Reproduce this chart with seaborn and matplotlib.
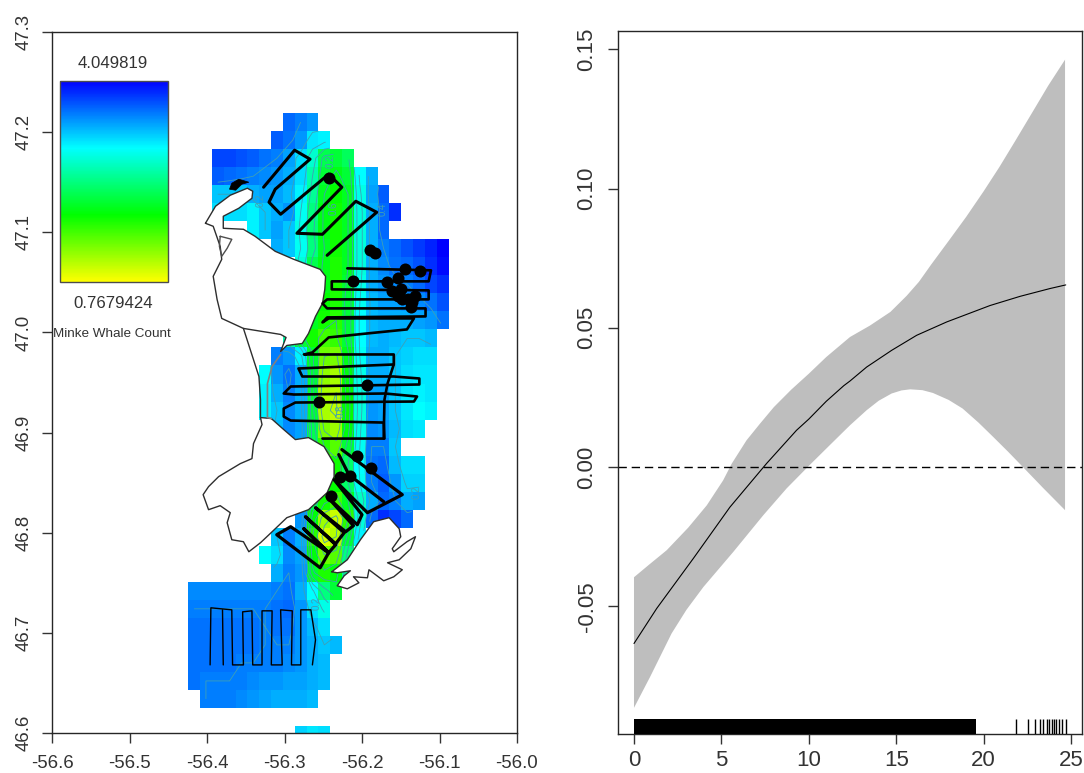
import numpy as np
import pandas as pd
import matplotlib
matplotlib.use("Agg")
import matplotlib.pyplot as plt
from matplotlib.colors import LinearSegmentedColormap
import seaborn as sns

# ---- map data: predicted count per grid cell, row by row from the north
row_start = [8, 7, 2, 2, 2, 2, 5, 7, 9, 10, 10, 9, 8, 7, 6, 6, 6, 7, 9, 12, 11, 10, 9,
             7, 6, 7, 0, 0, 0, 0, 0, 0, 1, 0, 9]
row_values = [
    [3.6, 3.5, 3.4],
    [3.65, 3.55, 3.4, 3.05, 3.0],
    [3.75, 3.75, 3.7, 3.65, 3.55, 3.5, 3.35, 3.1, 2.75, 2.2, 2.1, 2.25],
    [3.65, 3.6, 3.55, 3.5, 3.45, 3.4, 3.3, 3.1, 2.6, 2.1, 1.95, 2.1, 2.95, 3.3],
    [3.2, 3.2, 3.2, 3.3, 3.35, 3.35, 3.25, 3.0, 2.5, 2.0, 1.85, 2.0, 2.85, 3.35, 3.65],
    [3.1, 3.1, 3.1, 3.0, 3.2, 3.3, 3.4, 2.9, 2.4, 1.95, 1.8, 2.0, 2.8, 3.3, 3.6, 3.85],
    [3.0, 3.2, 3.35, 3.2, 2.85, 2.35, 1.95, 1.8, 2.0, 2.8, 3.3, 3.6],
    [3.3, 3.2, 2.9, 2.4, 2.0, 1.8, 2.0, 2.8, 3.3, 3.5, 3.6, 3.7, 3.8, 3.9, 4.05],
    [2.8, 2.2, 1.95, 1.75, 2.0, 2.8, 3.3, 3.45, 3.55, 3.6, 3.7, 3.85, 4.0],
    [2.3, 1.95, 1.75, 2.05, 2.85, 3.3, 3.4, 3.45, 3.5, 3.6, 3.75, 3.85],
    [2.1, 1.85, 1.75, 2.1, 2.9, 3.25, 3.35, 3.35, 3.4, 3.45, 3.55, 3.7],
    [2.2, 2.0, 1.8, 1.7, 2.1, 2.95, 3.25, 3.3, 3.3, 3.3, 3.35, 3.4, 3.55],
    [2.6, 2.1, 1.8, 1.6, 1.65, 2.1, 2.95, 3.25, 3.3, 3.25, 3.2, 3.2, 3.25],
    [3.5, 3.4, 3.0, 2.05, 1.4, 1.35, 1.95, 2.9, 3.3, 3.3, 3.2, 3.15, 3.1, 3.1],
    [2.95, 3.4, 3.55, 3.3, 2.1, 1.25, 1.15, 1.9, 2.85, 3.3, 3.3, 3.2, 3.1, 3.05, 3.05],
    [3.0, 3.3, 3.5, 3.3, 2.1, 1.15, 1.1, 1.85, 2.8, 3.35, 3.35, 3.2, 3.05, 3.0, 3.05],
    [3.0, 3.2, 3.45, 3.3, 2.1, 1.15, 1.05, 1.85, 2.8, 3.4, 3.35, 3.2, 3.05, 2.95, 3.0],
    [3.25, 3.45, 3.35, 2.2, 1.35, 1.2, 1.9, 2.85, 3.45, 3.4, 3.25, 3.1, 3.05],
    [3.3, 2.2, 1.7, 1.5, 2.1, 2.9, 3.5, 3.5, 3.2],
    [1.8, 2.3, 2.95, 3.55, 3.6, 3.25, 3.1, 3.1],
    [1.9, 1.85, 2.3, 2.9, 3.5, 3.65, 3.4, 3.15, 3.15],
    [2.2, 1.8, 1.6, 2.0, 2.7, 3.3, 3.6, 3.5, 3.3, 3.35],
    [3.4, 1.9, 1.2, 1.0, 1.7, 2.8, 3.6, 3.85, 3.75, 3.6],
    [3.2, 3.5, 3.3, 1.7, 0.95, 1.1, 2.1, 3.0],
    [2.95, 3.1, 3.45, 3.35, 1.9, 1.4, 1.5, 2.4],
    [3.3, 3.5, 3.4, 2.05, 1.75, 1.9, 2.5],
    [3.45, 3.45, 3.45, 3.45, 3.45, 3.45, 3.45, 3.5, 3.55, 3.3, 2.95, 2.4, 2.1],
    [3.5, 3.5, 3.5, 3.5, 3.5, 3.5, 3.5, 3.55, 3.6, 3.4, 3.1, 2.85],
    [3.55, 3.55, 3.55, 3.55, 3.55, 3.55, 3.5, 3.55, 3.55, 3.4, 3.25, 3.1],
    [3.55, 3.55, 3.55, 3.55, 3.55, 3.55, 3.5, 3.5, 3.5, 3.4, 3.3, 3.2, 3.25],
    [3.55, 3.55, 3.55, 3.55, 3.5, 3.5, 3.5, 3.5, 3.45, 3.4, 3.3, 3.25],
    [3.55, 3.5, 3.5, 3.5, 3.5, 3.45, 3.4, 3.4, 3.35, 3.35, 3.3, 3.25],
    [3.5, 3.5, 3.5, 3.45, 3.4, 3.35, 3.3, 3.3, 3.3, 3.25],
    [],
    [3.15, 3.05, 3.1],
]
grid_west = -56.4243
grid_north = 47.219
cell_lon = 0.01528
cell_lat = 0.018
count_min = 0.7679424
count_max = 4.049819

land_north_lon = [-56.402, -56.389, -56.370, -56.348, -56.341, -56.342, -56.359, -56.379, -56.379,
                  -56.353, -56.338, -56.312, -56.288, -56.254, -56.247, -56.248, -56.251, -56.260,
                  -56.269, -56.277, -56.297, -56.305, -56.298, -56.305, -56.353, -56.381, -56.387,
                  -56.392, -56.381, -56.383, -56.392]
land_north_lat = [47.109, 47.126, 47.137, 47.144, 47.141, 47.134, 47.124, 47.116, 47.104, 47.103,
                  47.096, 47.081, 47.073, 47.063, 47.056, 47.043, 47.029, 47.016, 46.999, 46.989,
                  46.987, 46.981, 46.995, 46.998, 47.004, 47.014, 47.033, 47.056, 47.073, 47.086,
                  47.106]
land_south_lon = [-56.317, -56.301, -56.286, -56.269, -56.249, -56.236, -56.236, -56.245, -56.269,
                  -56.297, -56.320, -56.331, -56.346, -56.353, -56.368, -56.374, -56.370, -56.383,
                  -56.398, -56.405, -56.398, -56.385, -56.357, -56.342, -56.340, -56.329, -56.331]
land_south_lat = [46.914, 46.903, 46.893, 46.895, 46.886, 46.869, 46.856, 46.840, 46.823, 46.815,
                  46.798, 46.790, 46.781, 46.791, 46.793, 46.810, 46.820, 46.827, 46.823, 46.838,
                  46.846, 46.856, 46.869, 46.874, 46.889, 46.908, 46.915]
land_se_lon = [-56.239, -56.219, -56.202, -56.185, -56.165, -56.152, -56.150, -56.161, -56.159,
               -56.142, -56.131, -56.137, -56.152, -56.167, -56.148, -56.159, -56.172, -56.191,
               -56.193, -56.211, -56.204, -56.219, -56.232, -56.223, -56.215, -56.232]
land_se_lat = [46.761, 46.773, 46.793, 46.811, 46.815, 46.804, 46.796, 46.784, 46.781, 46.791,
               46.796, 46.784, 46.773, 46.770, 46.763, 46.756, 46.752, 46.763, 46.755, 46.756,
               46.750, 46.744, 46.747, 46.757, 46.762, 46.760]
islet_lon = [-56.371, -56.368, -56.359, -56.346, -56.355, -56.363]
islet_lat = [47.143, 47.149, 47.153, 47.150, 47.148, 47.142]

# coast lines that are not polygon edges
arm_west_lon = [-56.353, -56.333, -56.331, -56.331]
arm_west_lat = [47.004, 46.956, 46.933, 46.915]
arm_east_lon = [-56.305, -56.316, -56.322, -56.322, -56.317]
arm_east_lat = [46.978, 46.966, 46.949, 46.915, 46.914]
lagoon_lon = [-56.383, -56.368, -56.374, -56.381, -56.384, -56.383]
lagoon_lat = [47.096, 47.093, 47.084, 47.076, 47.086, 47.096]

# survey tracks
track_north_lon = [-56.327, -56.287, -56.267, -56.312, -56.320, -56.305, -56.243, -56.226, -56.284,
                   -56.251, -56.208, -56.181, -56.245]
track_north_lat = [47.145, 47.182, 47.173, 47.143, 47.130, 47.118, 47.158, 47.145, 47.099, 47.098,
                   47.131, 47.120, 47.077]
track_mid_lon = [-56.219, -56.111, -56.114, -56.239, -56.239, -56.114, -56.114, -56.245, -56.251,
                 -56.245, -56.118, -56.118, -56.245, -56.251, -56.243, -56.133, -56.142, -56.193,
                 -56.243, -56.264, -56.275, -56.159, -56.159, -56.282, -56.277, -56.159, -56.126,
                 -56.126, -56.292, -56.301, -56.288, -56.170, -56.129, -56.133, -56.286, -56.301,
                 -56.301, -56.292, -56.172, -56.171, -56.251]
track_mid_lat = [47.064, 47.062, 47.051, 47.051, 47.043, 47.042, 47.033, 47.033, 47.029, 47.024,
                 47.024, 47.016, 47.015, 47.010, 47.014, 47.014, 47.003, 46.999, 46.995, 46.980,
                 46.978, 46.978, 46.968, 46.964, 46.956, 46.956, 46.954, 46.948, 46.946, 46.939,
                 46.938, 46.939, 46.936, 46.931, 46.930, 46.924, 46.916, 46.912, 46.910, 46.894,
                 46.894]
track_link_lon = [-56.159, -56.167, -56.171, -56.172]
track_link_lat = [46.968, 46.949, 46.933, 46.894]
track_south_lon = [-56.226, -56.148, -56.193, -56.236, -56.200, -56.206, -56.245, -56.211, -56.221,
                   -56.260, -56.223, -56.234, -56.273, -56.234, -56.243, -56.275, -56.243, -56.254,
                   -56.310, -56.292, -56.243]
track_south_lat = [46.883, 46.838, 46.820, 46.853, 46.818, 46.808, 46.836, 46.807, 46.801, 46.825,
                   46.800, 46.789, 46.816, 46.788, 46.780, 46.804, 46.780, 46.765, 46.798, 46.806,
                   46.780]
track_south2_lon = [-56.230, -56.217, -56.172]
track_south2_lat = [46.878, 46.858, 46.831]
comb_lon = [-56.396, -56.395, -56.368, -56.367, -56.353, -56.354, -56.342, -56.341, -56.329, -56.329,
            -56.316, -56.317, -56.303, -56.305, -56.290, -56.291, -56.279, -56.279, -56.266, -56.260,
            -56.264]
comb_lat = [46.668, 46.725, 46.723, 46.668, 46.668, 46.721, 46.722, 46.668, 46.668, 46.722, 46.722,
            46.668, 46.668, 46.723, 46.722, 46.668, 46.668, 46.723, 46.723, 46.693, 46.668]
comb_leg_lon = [-56.380, -56.379]
comb_leg_lat = [46.723, 46.668]

# whale sightings
sight_lon = [-56.242, -56.190, -56.183, -56.212, -56.168, -56.153, -56.145, -56.125, -56.161, -56.154,
             -56.148, -56.141, -56.131, -56.137, -56.150, -56.135, -56.194, -56.255, -56.206, -56.189,
             -56.228, -56.216, -56.240]
sight_lat = [47.154, 47.082, 47.079, 47.051, 47.050, 47.054, 47.063, 47.061, 47.041, 47.036, 47.033,
             47.033, 47.036, 47.025, 47.043, 47.030, 46.948, 46.931, 46.877, 46.865, 46.856, 46.857,
             46.837]

# contour labels seen on the map
contour_text = ["0.2", "0.6", "0.4", "0.2", "0.8", "0.2", "0.2"]
contour_text_lon = [-56.240, -56.237, -56.174, -56.331, -56.227, -56.130, -56.258]
contour_text_lat = [47.171, 47.124, 47.123, 47.132, 46.921, 46.840, 46.730]

map_xticks = [-56.6, -56.5, -56.4, -56.3, -56.2, -56.1, -56.0]
map_yticks = [46.6, 46.7, 46.8, 46.9, 47.0, 47.1, 47.2, 47.3]
map_xlabels = ["-56.6", "-56.5", "-56.4", "-56.3", "-56.2", "-56.1", "-56.0"]
map_ylabels = ["46.6", "46.7", "46.8", "46.9", "47.0", "47.1", "47.2", "47.3"]

# ---- smooth term data
line_x = [0, 1.3, 3.4, 5.49, 7.59, 9.3, 10, 11, 12, 12.36, 13.31, 14.74, 16.17, 17.89, 20.37, 22.09, 23.8, 24.7]
line_y = [-0.0634, -0.0508, -0.0328, -0.0144, 0.0013, 0.0132, 0.0172, 0.0236, 0.0292, 0.0309, 0.0359, 0.0419,
          0.0473, 0.0521, 0.058, 0.0613, 0.0641, 0.0654]
upper_x = [0, 0.82, 1.87, 3.1, 4.16, 5.1, 5.6, 6.44, 7.2, 8, 9, 10, 11, 12.36, 13.5, 14.67, 15.6, 16.3, 17,
           18, 19, 20, 20.9, 21.8, 22.8, 23.7, 24.66]
upper_y = [-0.0396, -0.0353, -0.0299, -0.0218, -0.0138, -0.0048, 0.0013, 0.0096, 0.0155, 0.0215, 0.0278,
           0.0335, 0.0395, 0.0467, 0.0508, 0.0557, 0.0615, 0.0665, 0.0727, 0.0812, 0.0898, 0.099, 0.1077,
           0.117, 0.1275, 0.137, 0.1463]
lower_x = [0, 0.92, 2.15, 3, 3.97, 5.68, 7.4, 8.73, 9.97, 11, 11.97, 12.36, 13.31, 14, 14.74, 15.3, 15.8, 16.5,
           17.1, 18, 18.8, 19.7, 20.55, 21.4, 22.25, 23.4, 24.66]
lower_y = [-0.0865, -0.0754, -0.0598, -0.0513, -0.0431, -0.0305, -0.0173, -0.0077, 0.0002, 0.0066, 0.0126, 0.015,
           0.0204, 0.0238, 0.0264, 0.0275, 0.0279, 0.0276, 0.0266, 0.0241, 0.021, 0.016, 0.0108, 0.0055, 0.0,
           -0.0075, -0.0155]
rug_x = [21.84, 22.54, 22.94, 23.23, 23.42, 23.61, 23.76, 23.9, 24.03, 24.14, 24.33, 24.5, 24.7]
rug_solid_start = 0
rug_solid_end = 19.55
smooth_xticks = [0, 5, 10, 15, 20, 25]
smooth_yticks = [-0.05, 0.0, 0.05, 0.10, 0.15]
smooth_ylabels = ["-0.05", "0.00", "0.05", "0.10", "0.15"]

# ---- build the grid table
n_cols = 22
grid = np.full((len(row_values), n_cols), np.nan)
for i, vals in enumerate(row_values):
    grid[i, row_start[i]:row_start[i] + len(vals)] = vals
grid_df = pd.DataFrame(grid)

sns.set_theme(style="ticks")
plt.rcParams["font.family"] = ["Liberation Sans", "DejaVu Sans"]
plt.rcParams["axes.linewidth"] = 1.0

W, H = 1084, 773
fig = plt.figure(figsize=(W / 100, H / 100), dpi=100)


def px_axes(x0, y0, x1, y1):
    return fig.add_axes([x0 / W, 1 - y1 / H, (x1 - x0) / W, (y1 - y0) / H])


whale_cmap = LinearSegmentedColormap.from_list(
    "whale", [(0, "#ffff00"), (1 / 3, "#00ff00"), (2 / 3, "#00ffff"), (1, "#0000ff")])

# ---- left panel
ax = px_axes(52, 32, 517, 733)
ax.set_xlim(-56.6, -56.0)
ax.set_ylim(46.6, 47.3)

rows_visible = (grid_north - 46.6) / cell_lat
hm = ax.inset_axes([grid_west, 46.6, n_cols * cell_lon, grid_north - 46.6],
                   transform=ax.transData, zorder=0)
legend_ax = px_axes(60, 81, 168, 282)
sns.heatmap(grid_df, ax=hm, cmap=whale_cmap, vmin=count_min, vmax=count_max,
            cbar=True, cbar_ax=legend_ax, xticklabels=False, yticklabels=False)
hm.set_ylim(rows_visible, 0)
hm.set_xlabel("")
hm.set_ylabel("")
hm.axis("off")

cbar = hm.collections[0].colorbar
cbar.set_ticks([])
cbar.outline.set_edgecolor("#4d4d4d")
cbar.outline.set_linewidth(1.0)
cbar.outline.set_visible(True)

lon_centres = grid_west + (np.arange(n_cols) + 0.5) * cell_lon
lat_centres = grid_north - (np.arange(len(row_values)) + 0.5) * cell_lat
ax.contour(lon_centres, lat_centres, grid, levels=[1.1, 1.4, 1.7, 2.0, 2.3, 2.6, 2.9, 3.2, 3.5],
           colors="#3f9fb5", linewidths=0.6, zorder=1)
for t, x, y in zip(contour_text, contour_text_lon, contour_text_lat):
    ax.text(x, y, t, color="#3f9fb5", fontsize=7, rotation=90, ha="center", va="center", zorder=1)

for px, py in [(land_north_lon, land_north_lat), (land_south_lon, land_south_lat), (land_se_lon, land_se_lat)]:
    ax.fill(px, py, color="white", lw=0, zorder=2)
    sns.lineplot(x=px + px[:1], y=py + py[:1], sort=False, estimator=None, color="#2e2e2e", lw=1.0,
                 ax=ax, zorder=2.2)
ax.fill(islet_lon, islet_lat, color="black", lw=0.5, zorder=2.2)

for px, py, c, w in [(arm_west_lon, arm_west_lat, "#2e2e2e", 1.0),
                     (arm_east_lon, arm_east_lat, "#808080", 1.2),
                     (lagoon_lon, lagoon_lat, "#4d4d4d", 1.0)]:
    sns.lineplot(x=px, y=py, sort=False, estimator=None, color=c, lw=w, ax=ax, zorder=2.2)

for px, py, w in [(track_north_lon, track_north_lat, 2.2),
                  (track_mid_lon, track_mid_lat, 1.9),
                  (track_link_lon, track_link_lat, 1.9),
                  (track_south_lon, track_south_lat, 2.3),
                  (track_south2_lon, track_south2_lat, 2.3),
                  (comb_lon, comb_lat, 1.0),
                  (comb_leg_lon, comb_leg_lat, 1.0)]:
    sns.lineplot(x=px, y=py, sort=False, estimator=None, color="black", lw=w, ax=ax, zorder=3)

sns.scatterplot(x=sight_lon, y=sight_lat, color="black", s=75, linewidth=0, ax=ax, zorder=4)

ax.set_xlim(-56.6, -56.0)
ax.set_ylim(46.6, 47.3)
ax.set_xticks(map_xticks, map_xlabels)
ax.set_yticks(map_yticks, map_ylabels)
ax.tick_params(axis="both", length=7.2, width=1.0, color="#333333", labelsize=13.4,
               labelcolor="#333333", pad=7)
ax.tick_params(axis="x", pad=8.5)
for lab in ax.get_yticklabels():
    lab.set_rotation(90)
    lab.set_va("center")

fig.text(113 / W, 1 - 63 / H, f"{count_max:.6f}", ha="center", va="center", fontsize=12.1, color="#333333")
fig.text(113 / W, 1 - 304 / H, f"{count_min:.7f}", ha="center", va="center", fontsize=12.1, color="#333333")
fig.text(112 / W, 1 - 334 / H, "Minke Whale Count", ha="center", va="center", fontsize=9.7, color="#333333")

# ---- right panel
ax2 = px_axes(618, 31, 1082, 734)
ax2.fill(upper_x + lower_x[::-1], upper_y + lower_y[::-1], color="#bebebe", lw=0, zorder=1)
sns.lineplot(x=line_x, y=line_y, color="black", lw=0.8, ax=ax2, zorder=2)
ax2.axhline(0, color="black", lw=1.0, ls=(0, (6, 3.5)), zorder=2)
sns.rugplot(x=rug_x, height=15 / 703, color="black", lw=1.1, ax=ax2, zorder=3)
ax2.axvspan(rug_solid_start, rug_solid_end, ymin=0, ymax=15 / 703, color="black", lw=0, zorder=3)
ax2.set_xlim(-0.915, 25.63)
ax2.set_ylim(-0.0959, 0.1566)
ax2.set_xticks(smooth_xticks)
ax2.set_yticks(smooth_yticks, smooth_ylabels)
ax2.tick_params(axis="both", length=7.2, width=1.0, color="#333333", labelsize=16,
                labelcolor="#333333", pad=7.5)
ax2.tick_params(axis="x", pad=4)
for lab in ax2.get_yticklabels():
    lab.set_rotation(90)
    lab.set_va("center")

fig.savefig("out.png", dpi=100)
